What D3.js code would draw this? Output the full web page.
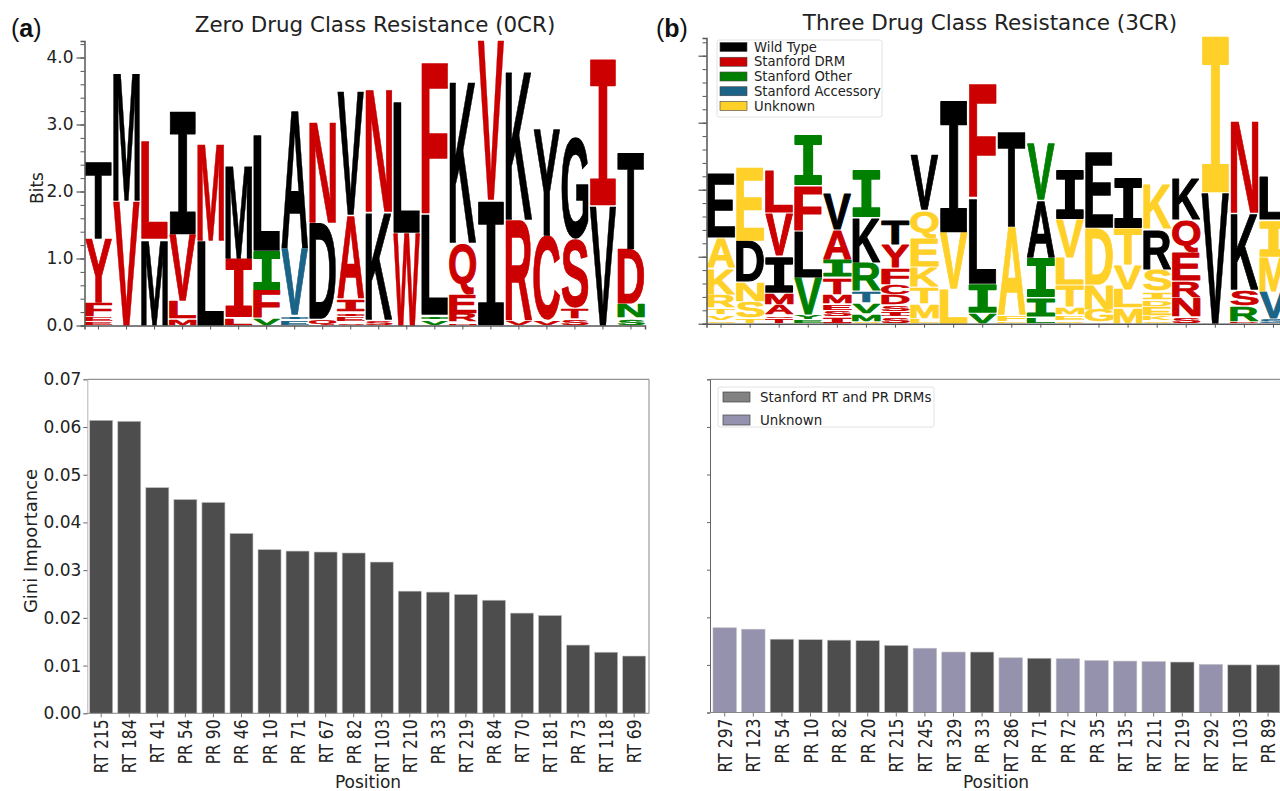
<!DOCTYPE html>
<html>
<head>
<meta charset="utf-8">
<script src="https://cdn.jsdelivr.net/npm/d3@7"></script>
<style>
  html, body { margin: 0; padding: 0; background: #fff; overflow: hidden; }
  svg { display: block; }
  text { font-family: "DejaVu Sans", sans-serif; fill: #222; }
</style>
</head>
<body>
<div id="chart"></div>
<script>
// letters are listed bottom to top: [letter, bits, class]
// W wild type, D Stanford DRM, O Stanford other, A Stanford accessory, U unknown
const logo_0cr = [
  [["E",.06,"D"],["E",.07,"D"],["F",.21,"D"],["Y",.95,"D"],["T",1.17,"W"]],
  [["V",1.86,"D"],["M",1.92,"W"]],
  [["M",1.29,"W"],["L",1.46,"D"]],
  [["M",.1,"D"],["L",.27,"D"],["V",.99,"D"],["I",1.86,"W"]],
  [["L",1.26,"W"],["M",1.46,"D"]],
  [["L",.12,"D"],["I",.88,"D"],["M",1.4,"W"]],
  [["V",.11,"O"],["F",.42,"D"],["I",.59,"O"],["L",1.72,"W"]],
  [["E",.08,"A"],["I",.08,"A"],["V",.99,"A"],["A",2.08,"W"]],
  [["Q",.1,"D"],["D",1.43,"W"],["N",1.51,"D"]],
  [["S",.05,"D"],["E",.07,"D"],["I",.08,"D"],["I",.2,"D"],["A",1.25,"D"],["V",1.84,"W"]],
  [["S",.08,"D"],["K",1.62,"W"],["N",1.84,"D"]],
  [["W",1.38,"D"],["L",1.96,"W"]],
  [["V",.08,"O"],["I",.08,"O"],["L",1.49,"W"],["F",2.28,"D"]],
  [["N",.05,"D"],["R",.13,"D"],["E",.28,"D"],["Q",.78,"D"],["K",2.43,"W"]],
  [["I",1.88,"W"],["V",2.37,"D"]],
  [["V",.08,"D"],["R",1.5,"D"],["K",2.24,"W"]],
  [["V",.08,"D"],["C",1.26,"D"],["Y",1.59,"W"]],
  [["S",.1,"D"],["T",.16,"D"],["S",1.03,"D"],["G",1.52,"W"]],
  [["V",1.79,"W"],["I",2.21,"D"]],
  [["S",.11,"O"],["N",.21,"O"],["D",.83,"D"],["T",1.46,"W"]]
];

const logo_3cr = [
  [["S",.05,"U"],["V",.08,"U"],["T",.1,"U"],["R",.2,"U"],["K",.4,"U"],["A",.45,"U"],["E",.95,"W"]],
  [["T",.08,"U"],["S",.25,"U"],["N",.3,"U"],["D",.61,"W"],["E",1.1,"U"]],
  [["T",.08,"D"],["S",.05,"D"],["A",.15,"D"],["M",.18,"D"],["I",.56,"W"],["V",.63,"D"],["L",.64,"D"]],
  [["E",.06,"O"],["Y",.07,"O"],["V",.56,"O"],["L",.69,"W"],["F",.69,"D"],["I",.75,"O"]],
  [["I",.1,"D"],["S",.1,"D"],["E",.1,"D"],["M",.13,"D"],["T",.26,"D"],["I",.27,"O"],["A",.44,"D"],["V",.53,"W"]],
  [["S",.03,"U"],["M",.12,"O"],["V",.16,"O"],["T",.18,"A"],["R",.42,"O"],["K",.68,"W"],["I",.73,"O"]],
  [["S",.1,"D"],["I",.08,"D"],["S",.1,"D"],["D",.15,"D"],["C",.15,"D"],["F",.25,"D"],["Y",.35,"D"],["T",.37,"W"]],
  [["L",.08,"U"],["M",.22,"U"],["T",.25,"U"],["K",.3,"U"],["E",.42,"U"],["Q",.43,"U"],["V",.83,"W"]],
  [["L",.52,"U"],["V",.84,"U"],["I",1.99,"W"]],
  [["V",.15,"O"],["I",.45,"O"],["L",1.27,"W"],["F",1.72,"D"]],
  [["E",.03,"U"],["F",.1,"U"],["A",1.32,"U"],["T",1.43,"W"]],
  [["L",.1,"O"],["I",.3,"O"],["I",.59,"O"],["A",.86,"W"],["V",.85,"O"]],
  [["S",.05,"U"],["E",.08,"U"],["M",.12,"U"],["T",.33,"U"],["L",.4,"U"],["V",.58,"U"],["I",.74,"W"]],
  [["Q",.02,"D"],["G",.19,"U"],["N",.37,"U"],["D",.85,"U"],["E",1.14,"W"]],
  [["M",.23,"U"],["L",.28,"U"],["V",.37,"U"],["T",.55,"U"],["I",.76,"W"]],
  [["S",.05,"U"],["K",.07,"U"],["E",.13,"U"],["D",.1,"U"],["I",.13,"U"],["S",.33,"U"],["R",.6,"W"],["K",.69,"U"]],
  [["S",.1,"D"],["N",.29,"D"],["R",.25,"D"],["E",.42,"D"],["Q",.49,"D"],["K",.63,"W"]],
  [["V",1.96,"W"],["I",2.35,"U"]],
  [["D",.03,"D"],["R",.23,"O"],["S",.24,"D"],["K",1.15,"W"],["N",1.39,"D"]],
  [["S",.08,"A"],["V",.4,"A"],["M",.52,"U"],["I",.55,"U"],["L",.65,"W"]]
];

const positions_0cr = ["RT 215","RT 184","RT 41","PR 54","PR 90","PR 46","PR 10","PR 71","RT 67","PR 82","RT 103","RT 210","PR 33","RT 219","PR 84","RT 70","RT 181","PR 73","RT 118","RT 69"];
const gini_0cr = [.0614,.0612,.0473,.0448,.0442,.0377,.0343,.034,.0338,.0336,.0317,.0256,.0254,.0249,.0237,.021,.0205,.0143,.0128,.012];

const positions_3cr = ["RT 297","RT 123","PR 54","PR 10","PR 82","PR 20","RT 215","RT 245","RT 329","PR 33","RT 286","PR 71","PR 72","PR 35","RT 135","RT 211","RT 219","RT 292","RT 103","PR 89"];
const gini_3cr = [.0178,.0175,.0154,.0153,.0152,.0151,.0141,.0135,.0127,.0127,.0115,.0114,.0113,.0109,.0108,.0107,.0106,.0101,.01,.01];
const classes_3cr = ["U","U","D","D","D","D","D","U","U","D","U","D","U","U","U","U","D","U","D","D"];

const logo_legend = ["Wild Type","Stanford DRM","Stanford Other","Stanford Accessory","Unknown"];
const logo_legend_keys = ["W","D","O","A","U"];
const bar_legend = ["Stanford RT and PR DRMs","Unknown"];
const bits_ticks = [0,1,2,3,4];
const gini_ticks = [0,.01,.02,.03,.04,.05,.06,.07];

const WIDTH = 1280, HEIGHT = 791;
const LOGO_COLOR = {W:"#000000", D:"#cc0000", O:"#008000", A:"#1b6488", U:"#ffd028"};
const BAR_DARK = "#4d4d4d", BAR_UNKNOWN = "#9492ac";
const AXIS_COLOR = "#555";

var svg = d3.select("#chart").append("svg").attr("width", WIDTH).attr("height", HEIGHT);
var measure = document.createElement("canvas").getContext("2d");

function draw_letter(g, letter, x, y_bottom, w, h, color) {
  /* stretch one glyph so its ink fills the box exactly */
  var family = letter === "I" ? "'Liberation Mono'" : "'Liberation Sans'";
  // a thin round stroke fattens the glyph, so the box shrinks by half of it
  var pad = Math.min(letter === "I" ? 0.9 : 0.5, h * 0.2);
  measure.font = "bold 100px " + family;
  var m = measure.measureText(letter);
  var sx = (w - 2 * pad) / (m.actualBoundingBoxLeft + m.actualBoundingBoxRight);
  var sy = (h - 2 * pad) / (m.actualBoundingBoxAscent + m.actualBoundingBoxDescent);
  g.append("text")
    .text(letter)
    .style("font-family", family)
    .style("font-weight", "bold")
    .style("font-size", "100px")
    .style("fill", color)
    .style("stroke", color)
    .style("stroke-width", 2 * pad + "px")
    .style("stroke-linejoin", "round")
    .attr("vector-effect", "non-scaling-stroke")
    .attr("transform", "translate(" + (x + pad + m.actualBoundingBoxLeft * sx) + "," + (y_bottom - pad - m.actualBoundingBoxDescent * sy) + ") scale(" + sx + "," + sy + ")");
}

function draw_logo(stacks, opts) {
  var x = d3.scaleBand().domain(d3.range(stacks.length)).range([opts.left, opts.right]);
  var y = d3.scaleLinear().domain([0, 4]).range([opts.zero, opts.zero - 268]);
  var g = svg.append("g");

  stacks.forEach(function(stack, i) {
    var base = 0;
    stack.forEach(function(d) {
      var top = base + d[1];
      draw_letter(g, d[0], x(i) + 0.3, y(base) - 0.3, x.bandwidth() - 0.6, Math.max(y(base) - y(top) - 0.6, 0.6), LOGO_COLOR[d[2]]);
      base = top;
    });
  });

  // minor ticks every 0.2 bits, major ones come from the axis below
  var y_all = d3.scaleLinear().domain([0, (opts.zero - opts.top) / 67]).range([opts.zero, opts.top]);
  var minor = g.append("g").attr("transform", "translate(" + opts.left + ",0)")
    .call(d3.axisLeft(y_all).tickValues(d3.range(0.2, 4.3, 0.2)).tickSize(4).tickFormat(""));
  minor.selectAll("line").attr("stroke", AXIS_COLOR);
  minor.select(".domain").attr("stroke", AXIS_COLOR).attr("stroke-width", 1.5);

  var major = g.append("g").attr("transform", "translate(" + opts.left + ",0)")
    .call(d3.axisLeft(y).tickValues(bits_ticks).tickSize(8).tickPadding(3).tickFormat(opts.labels ? d3.format(".1f") : ""));
  major.select(".domain").remove();
  major.selectAll("line").attr("stroke", AXIS_COLOR).attr("stroke-width", 1.2);
  major.selectAll("text").style("font-size", "17px").style("fill", "#222").style("font-family", "'DejaVu Sans'");

  var bottom = g.append("g").attr("transform", "translate(0," + opts.zero + ")")
    .call(d3.axisBottom(x).tickSize(4).tickFormat(""));
  bottom.selectAll("line").attr("stroke", AXIS_COLOR);
  bottom.select(".domain").attr("stroke", AXIS_COLOR).attr("stroke-width", 1.5);
}

function draw_bars(names, values, colors, opts) {
  var x = d3.scaleBand().domain(names).range([opts.first, opts.first + opts.step * names.length]).paddingInner(0.18).paddingOuter(0.09);
  var y = d3.scaleLinear().domain([0, 0.07]).range([opts.bottom, opts.top]);
  var g = svg.append("g");

  g.selectAll("rect.bar").data(names).enter().append("rect")
    .attr("class", "bar")
    .attr("x", function(d) { return x(d); })
    .attr("width", x.bandwidth())
    .attr("y", function(d, i) { return y(values[i]); })
    .attr("height", function(d, i) { return opts.bottom - y(values[i]); })
    .attr("fill", function(d, i) { return colors[i]; })
    .attr("stroke", "#c4bfc4")
    .attr("stroke-width", 0.6);

  // top and right spines
  g.append("line").attr("x1", opts.left).attr("x2", opts.right).attr("y1", opts.top).attr("y2", opts.top).attr("stroke", "#777").attr("stroke-width", 1);
  if (opts.right < WIDTH) {
    g.append("line").attr("x1", opts.right).attr("x2", opts.right).attr("y1", opts.top).attr("y2", opts.bottom).attr("stroke", "#888");
  }

  var ax_y = g.append("g").attr("transform", "translate(" + opts.left + ",0)")
    .call(d3.axisLeft(y).tickValues(gini_ticks).tickSize(opts.labels ? 4 : 3).tickPadding(2).tickFormat(opts.labels ? d3.format(".2f") : ""));
  ax_y.select(".domain").attr("stroke", opts.spine);
  ax_y.selectAll("line").attr("stroke", "#666");
  ax_y.selectAll("text").style("font-size", "17px").style("fill", "#222").style("font-family", "'DejaVu Sans'");

  var ax_x = g.append("g").attr("transform", "translate(0," + opts.bottom + ")")
    .call(d3.axisBottom(x).tickSize(4));
  ax_x.select(".domain").attr("stroke", "#888").attr("d", "M" + opts.left + ",0H" + opts.right);
  ax_x.selectAll("line").attr("stroke", "#777");
  ax_x.selectAll("text")
    .style("font-size", "19.5px")
    .style("fill", "#222")
    .style("font-family", "'DejaVu Sans'")
    .attr("text-anchor", "end")
    .attr("dy", null)
    .attr("y", 0)
    .attr("transform", "translate(7,6) rotate(-90) scale(0.8,1)");

  svg.append("text").text("Position")
    .attr("x", opts.label_x).attr("y", 788)
    .attr("text-anchor", "middle").style("font-size", "17px");
}

function draw_label(letter, x, y) {
  var t = svg.append("text").attr("x", x).attr("y", y)
    .style("font-family", "'Liberation Sans'").style("font-size", "25px").style("fill", "#111");
  t.append("tspan").text("(");
  t.append("tspan").text(letter).style("font-weight", "bold");
  t.append("tspan").text(")");
}

function draw_logo_legend() {
  var g = svg.append("g");
  g.append("rect").attr("x", 717).attr("y", 40).attr("width", 165).attr("height", 77)
    .attr("rx", 2).attr("fill", "#fff").attr("stroke", "#e2e2e2");
  var y = d3.scalePoint().domain(logo_legend).range([47, 106]);
  logo_legend.forEach(function(name, i) {
    g.append("rect").attr("x", 720).attr("y", y(name) - 4.5).attr("width", 27).attr("height", 9)
      .attr("fill", LOGO_COLOR[logo_legend_keys[i]]).attr("stroke", "#444").attr("stroke-width", 0.6);
    g.append("text").text(name).attr("x", 754).attr("y", y(name) + 4.5).style("font-size", "13.2px");
  });
}

function draw_bar_legend() {
  var g = svg.append("g");
  g.append("rect").attr("x", 718).attr("y", 387).attr("width", 216).attr("height", 40)
    .attr("rx", 2).attr("fill", "#fff").attr("stroke", "#e2e2e2");
  var y = d3.scalePoint().domain(bar_legend).range([397, 420]);
  [BAR_DARK, BAR_UNKNOWN].forEach(function(c, i) {
    g.append("rect").attr("x", 723).attr("y", y(bar_legend[i]) - 5).attr("width", 27).attr("height", 10)
      .attr("fill", c).attr("fill-opacity", i ? 1 : 0.7).attr("stroke", "#444").attr("stroke-width", 0.7);
    g.append("text").text(bar_legend[i]).attr("x", 760).attr("y", y(bar_legend[i]) + 5).style("font-size", "13.4px");
  });
}

draw_logo(logo_0cr, {left: 84.5, right: 645, zero: 325.5, top: 41, labels: true});
draw_logo(logo_3cr, {left: 706.5, right: 1288, zero: 323.7, top: 38, labels: false});

draw_bars(positions_0cr, gini_0cr, gini_0cr.map(function() { return BAR_DARK; }),
  {first: 87.2, step: 28.05, left: 87.3, right: 649, top: 379.3, bottom: 713.3, labels: true, spine: "#b9b0b5", label_x: 368});
draw_bars(positions_3cr, gini_3cr, classes_3cr.map(function(c) { return c === "U" ? BAR_UNKNOWN : BAR_DARK; }),
  {first: 710.4, step: 28.6, left: 710, right: 1280, top: 379.3, bottom: 712.5, labels: false, spine: "#666", label_x: 996});

draw_logo_legend();
draw_bar_legend();

svg.append("text").text("Zero Drug Class Resistance (0CR)").attr("x", 375).attr("y", 32)
  .attr("text-anchor", "middle").style("font-size", "21.4px");
svg.append("text").text("Three Drug Class Resistance (3CR)").attr("x", 990).attr("y", 30)
  .attr("text-anchor", "middle").style("font-size", "21.5px");
svg.append("text").text("Bits").attr("transform", "translate(43,188) rotate(-90)")
  .attr("text-anchor", "middle").style("font-size", "17px");
svg.append("text").text("Gini Importance").attr("transform", "translate(37,541) rotate(-90)")
  .attr("text-anchor", "middle").style("font-size", "18px");

draw_label("a", 11, 37);
draw_label("b", 656, 37);
</script>
</body>
</html>
